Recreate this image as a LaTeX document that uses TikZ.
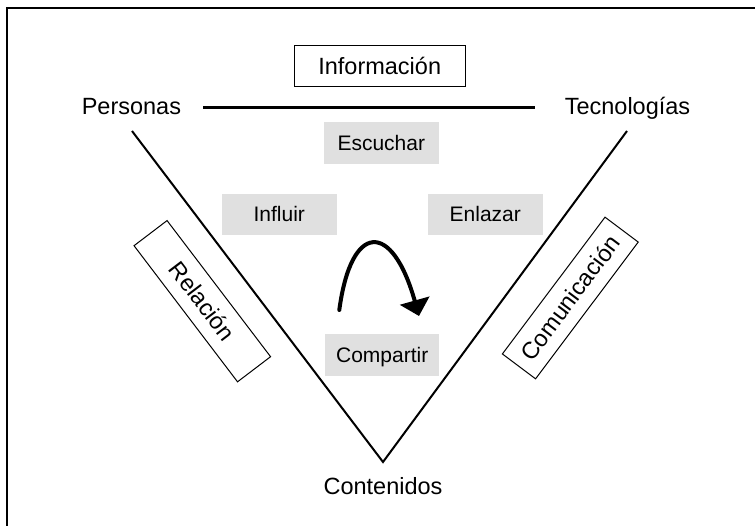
\documentclass[tikz,border=0pt]{standalone}
\usepackage{fontspec}
\setmainfont{Liberation Sans}
\usetikzlibrary{arrows.meta}
\definecolor{boxgray}{RGB}{224,224,224}
\begin{document}
\begin{tikzpicture}[x=1pt,y=-1pt,
  lbl/.style={font=\fontsize{23.5}{28}\selectfont, inner sep=0pt, anchor=base},
  whitebox/.style={draw=black, line width=1pt, fill=white, minimum width=171pt,
    minimum height=41.5pt, inner sep=0pt, text height=16.8pt, text depth=0pt,
    font=\fontsize{23.5}{28}\selectfont},
  graybox/.style={fill=boxgray, minimum width=114.5pt, minimum height=41.5pt,
    inner sep=0pt, text height=15pt, text depth=0pt, font=\fontsize{21}{25}\selectfont},
  vline/.style={line width=2pt},
  hline/.style={line width=3pt},
  turnarrow/.style={line width=4pt, line cap=round, -{Triangle[length=16pt,width=30pt]}},
]
\useasboundingbox (0,0) rectangle (755,526);
\draw[line width=2pt] (7,540) -- (7,8.5) -- (770,8.5);

\node[lbl] (pers) at (131.4,114.3) {Personas};
\node[lbl] (tec) at (627.5,114.3) {Tecnologías};
\node[lbl] (cont) at (383,494) {Contenidos};
\node[whitebox] (info) at (379.7,65.8) {Información};
\node[graybox] (esc) at (381.3,143) {Escuchar};
\node[graybox] (infl) at (279.3,214.5) {Influir};
\node[graybox] (enl) at (485.3,214.5) {Enlazar};
\node[graybox] (comp) at (382.2,354.8) {Compartir};
\node[whitebox, rotate=-52.75] (rel) at (202.3,301.2) {Relación};
\node[whitebox, rotate=53.1] (com) at (570.3,298) {Comunicación};

\coordinate (hl) at (203,107.5);
\coordinate (hr) at (535,107.5);
\coordinate (vl) at (132,131);
\coordinate (vr) at (627,131);
\coordinate (apex) at (383,462);
\draw[hline] (hl) -- (hr);
\draw[vline] (vl) -- (apex) -- (vr);

\coordinate (a0) at (339.3,310);
\coordinate (a1) at (419,316);
\draw[turnarrow] (a0) .. controls (351,222) and (392,220) .. (a1);
\end{tikzpicture}
\end{document}
